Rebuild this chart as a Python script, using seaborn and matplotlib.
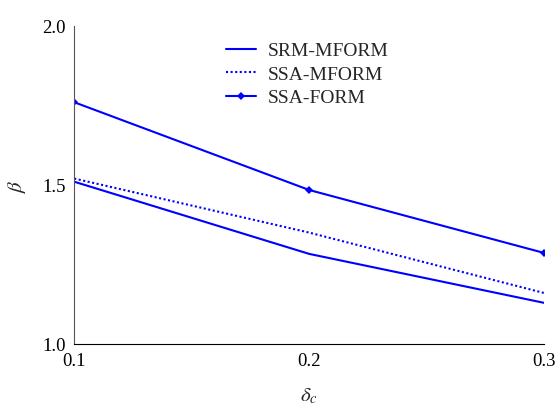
import matplotlib
matplotlib.use('Agg')
import matplotlib.pyplot as plt
import pandas as pd
import seaborn as sns

sns.set_style('white')
plt.rcParams['font.family'] = ['Liberation Serif', 'DejaVu Serif']
plt.rcParams['mathtext.fontset'] = 'stix'

delta_c = [0.1, 0.2, 0.3]
srm_mform = [1.51, 1.283, 1.129]
ssa_mform = [1.52, 1.35, 1.16]
ssa_form = [1.76, 1.484, 1.286]

df = pd.DataFrame({'delta': delta_c, 'SRM-MFORM': srm_mform,
                   'SSA-MFORM': ssa_mform, 'SSA-FORM': ssa_form})

fig = plt.figure(figsize=(5.58, 4.14), dpi=100)
ax = fig.add_axes([0.133, 0.167, 0.842, 0.768])

sns.lineplot(data=df, x='delta', y='SRM-MFORM', ax=ax, color='#0000ff',
             linewidth=1.5, label='SRM-MFORM')
sns.lineplot(data=df, x='delta', y='SSA-MFORM', ax=ax, color='#0000ff',
             linewidth=1.5, linestyle=(0, (1, 1.2)), label='SSA-MFORM')
sns.lineplot(data=df, x='delta', y='SSA-FORM', ax=ax, color='#0000ff',
             linewidth=1.5, marker='D', markersize=4, markeredgewidth=0,
             label='SSA-FORM')

ax.set_xlim(0.1, 0.3)
ax.set_ylim(1.0, 2.0)
ax.set_xticks([0.1, 0.2, 0.3])
ax.set_yticks([1.0, 1.5, 2.0])
ax.set_xticklabels(['0.1', '0.2', '0.3'])
ax.set_yticklabels(['1.0', '1.5', '2.0'])
ax.tick_params(direction='in', length=3, labelsize=13.5, colors='#333333',
               labelcolor='black', pad=6)
sns.despine(ax=ax)
ax.spines['left'].set_color('#555555')
ax.spines['bottom'].set_color('black')
ax.set_xlabel(r'$\delta_c$', fontsize=15, labelpad=12)
ax.set_ylabel(r'$\beta$', fontsize=15, labelpad=10)

ax.legend(frameon=False, loc='upper left', bbox_to_anchor=(0.285, 1.005),
          fontsize=14, handlelength=1.55, handletextpad=0.6, labelspacing=0.3)

fig.savefig('out.png', dpi=100)
